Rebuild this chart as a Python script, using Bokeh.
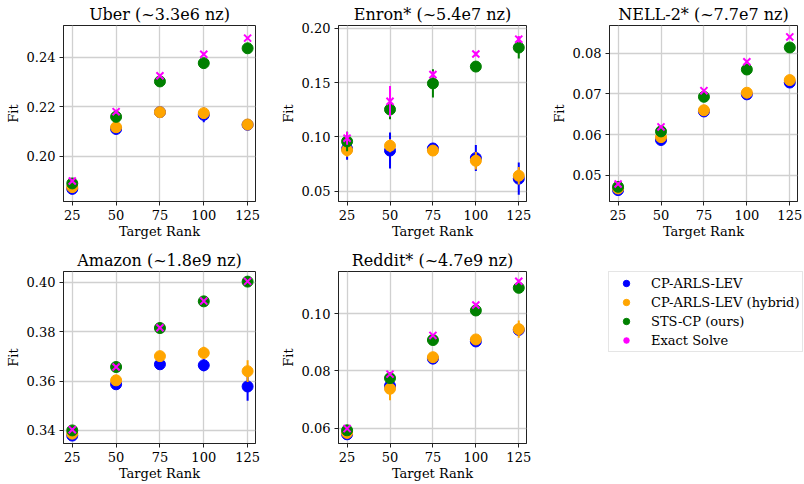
from bokeh.plotting import figure
from bokeh.layouts import column, row
from bokeh.models import (Range1d, FixedTicker, PrintfTickFormatter, Legend,
                          LegendItem, ColumnDataSource)
from bokeh.embed import file_html
from bokeh.resources import INLINE

FONT = "DejaVu Serif"

ranks = [25, 50, 75, 100, 125]
series_keys = ["lev", "hyb", "sts", "exact"]
series_labels = ["CP-ARLS-LEV", "CP-ARLS-LEV (hybrid)", "STS-CP (ours)", "Exact Solve"]
series_colors = ["blue", "orange", "green", "magenta"]

# ---- Uber ----
uber_fit = {"lev": [0.1868, 0.2110, 0.2178, 0.2167, 0.2127],
            "hyb": [0.1875, 0.2117, 0.2178, 0.2174, 0.2128],
            "sts": [0.1890, 0.2159, 0.2302, 0.2376, 0.2436],
            "exact": [0.1900, 0.2180, 0.2325, 0.2412, 0.2477]}
uber_err = {"lev": [0.0010, 0.0008, 0.0006, 0.0030, 0.0012],
            "hyb": [0.0008, 0.0008, 0.0006, 0.0012, 0.0017],
            "sts": [0.0006, 0.0006, 0.0005, 0.0008, 0.0006],
            "exact": [0.0004, 0.0008, 0.0005, 0.0006, 0.0005]}
uber_yticks = [0.20, 0.22, 0.24]

# ---- Enron ----
enron_fit = {"lev": [0.0890, 0.0874, 0.0893, 0.0805, 0.0615],
             "hyb": [0.0878, 0.0918, 0.0874, 0.0780, 0.0642],
             "sts": [0.0958, 0.1252, 0.1492, 0.1647, 0.1822],
             "exact": [0.0988, 0.1327, 0.1573, 0.1763, 0.1899]}
enron_err = {"lev": [0.0100, 0.0165, 0.0050, 0.0120, 0.0148],
             "hyb": [0.0060, 0.0060, 0.0040, 0.0080, 0.0080],
             "sts": [0.0090, 0.0090, 0.0130, 0.0040, 0.0100],
             "exact": [0.0060, 0.0140, 0.0030, 0.0020, 0.0030]}
enron_yticks = [0.05, 0.10, 0.15, 0.20]

# ---- NELL-2 ----
nell_fit = {"lev": [0.0464, 0.0587, 0.0657, 0.0699, 0.0728],
            "hyb": [0.0468, 0.0594, 0.0660, 0.0703, 0.0734],
            "sts": [0.0472, 0.0608, 0.0693, 0.0760, 0.0814],
            "exact": [0.0479, 0.0619, 0.0708, 0.0779, 0.0840]}
nell_err = {"lev": [0.0003, 0.0003, 0.0003, 0.0003, 0.0003],
            "hyb": [0.0003, 0.0003, 0.0003, 0.0003, 0.0003],
            "sts": [0.0003, 0.0003, 0.0003, 0.0003, 0.0003],
            "exact": [0.0002, 0.0002, 0.0002, 0.0002, 0.0002]}
nell_yticks = [0.05, 0.06, 0.07, 0.08]

# ---- Amazon ----
amazon_fit = {"lev": [0.3379, 0.3587, 0.3668, 0.3664, 0.3578],
              "hyb": [0.3387, 0.3603, 0.3701, 0.3714, 0.3640],
              "sts": [0.3400, 0.3657, 0.3815, 0.3923, 0.4003],
              "exact": [0.3403, 0.3657, 0.3816, 0.3924, 0.4004]}
amazon_err = {"lev": [0.0005, 0.0006, 0.0006, 0.0024, 0.0058],
              "hyb": [0.0005, 0.0005, 0.0006, 0.0025, 0.0044],
              "sts": [0.0004, 0.0004, 0.0004, 0.0004, 0.0004],
              "exact": [0.0003, 0.0003, 0.0003, 0.0003, 0.0003]}
amazon_yticks = [0.34, 0.36, 0.38, 0.40]

# ---- Reddit ----
reddit_fit = {"lev": [0.0579, 0.0748, 0.0843, 0.0903, 0.0943],
              "hyb": [0.0584, 0.0738, 0.0848, 0.0910, 0.0946],
              "sts": [0.0593, 0.0775, 0.0908, 0.1011, 0.1090],
              "exact": [0.0599, 0.0789, 0.0924, 0.1030, 0.1113]}
reddit_err = {"lev": [0.0004, 0.0010, 0.0005, 0.0005, 0.0010],
              "hyb": [0.0004, 0.0040, 0.0005, 0.0006, 0.0030],
              "sts": [0.0004, 0.0004, 0.0004, 0.0004, 0.0004],
              "exact": [0.0004, 0.0004, 0.0004, 0.0004, 0.0004]}
reddit_yticks = [0.06, 0.08, 0.10]

titles = ["Uber (~3.3e6 nz)", "Enron* (~5.4e7 nz)", "NELL-2* (~7.7e7 nz)",
          "Amazon (~1.8e9 nz)", "Reddit* (~4.7e9 nz)"]
y_ranges = [(0.1817, 0.2528), (0.0405, 0.2025), (0.0436, 0.0868),
            (0.3347, 0.4044), (0.0547, 0.1147)]
x_range = (20, 129.5)


def make_fig(title, fit, err, yr, yticks, width, height, left, right, top, bottom):
    p = figure(width=width, height=height, x_range=Range1d(*x_range),
               y_range=Range1d(*yr), output_backend="svg", toolbar_location=None,
               min_border_left=left, min_border_right=right, min_border_top=top,
               min_border_bottom=bottom)
    p.title.text = title
    p.title.align = "center"
    p.title.text_font = FONT
    p.title.text_font_size = "16px"
    p.title.text_font_style = "normal"
    p.title.text_color = "black"
    p.title.standoff = 3
    p.title.offset = 0
    p.outline_line_color = "#222222"
    p.outline_line_width = 1
    p.background_fill_color = "white"

    p.xaxis.ticker = FixedTicker(ticks=ranks)
    p.yaxis.ticker = FixedTicker(ticks=yticks)
    p.yaxis.formatter = PrintfTickFormatter(format="%.2f")
    p.xaxis.axis_label = "Target Rank"
    p.yaxis.axis_label = "Fit"
    for ax in (p.xaxis, p.yaxis):
        ax.axis_label_text_font = FONT
        ax.axis_label_text_font_size = "13px"
        ax.axis_label_text_font_style = "normal"
        ax.axis_label_text_color = "black"
        ax.major_label_text_font = FONT
        ax.major_label_text_font_size = "13px"
        ax.major_label_text_color = "black"
        ax.major_tick_out = 4
        ax.major_tick_in = 0
        ax.major_tick_line_color = "#222222"
        ax.minor_tick_line_color = None
        ax.axis_line_color = "#222222"
    p.xaxis.major_label_standoff = 4
    p.xaxis.axis_label_standoff = 1
    p.yaxis.major_label_standoff = 4
    p.yaxis.axis_label_standoff = 3
    p.grid.grid_line_color = "#d0d0d0"
    p.grid.grid_line_width = 1.3

    srcs = []
    for key, color in zip(series_keys, series_colors):
        y = fit[key]
        e = err[key]
        src = ColumnDataSource(dict(x=ranks, y=y,
                                    lo=[a - b for a, b in zip(y, e)],
                                    hi=[a + b for a, b in zip(y, e)]))
        p.segment(x0="x", y0="lo", x1="x", y1="hi", source=src,
                  line_color=color, line_width=2)
        if key == "exact":
            p.scatter("x", "y", source=src, marker="x", size=10,
                      line_color=color, line_width=2)
        else:
            p.scatter("x", "y", source=src, marker="circle", size=11,
                      fill_color=color, line_color=color)
        srcs.append(src)
    return p, srcs


FW = 192
W1 = 63 + FW + 22
W2 = 57 + FW + 22
W3 = 57 + FW + 6
TOP1, FH1, BOT1 = 25, 176, 44
TOP2, FH2, BOT2 = 26, 173, 39
H1 = TOP1 + FH1 + BOT1
H2 = TOP2 + FH2 + BOT2

datasets = [(uber_fit, uber_err, uber_yticks), (enron_fit, enron_err, enron_yticks),
            (nell_fit, nell_err, nell_yticks), (amazon_fit, amazon_err, amazon_yticks),
            (reddit_fit, reddit_err, reddit_yticks)]
widths = [W1, W2, W3, W1, W2]
heights = [H1, H1, H1, H2, H2]
lefts = [63, 57, 57, 63, 57]
rights = [22, 22, 6, 22, 22]
tops = [TOP1, TOP1, TOP1, TOP2, TOP2]
bots = [BOT1, BOT1, BOT1, BOT2, BOT2]

figs = []
src_sets = []
for i, (fit, err, yt) in enumerate(datasets):
    f, ss = make_fig(titles[i], fit, err, y_ranges[i], yt, widths[i],
                     heights[i], lefts[i], rights[i], tops[i], bots[i])
    figs.append(f)
    src_sets.append(ss)

# legend panel: proxy renderers share the Reddit sources but lie outside
# this panel's (empty) ranges, so only their legend glyphs are visible
lp = figure(width=W3, height=H2, x_range=Range1d(0, 1), y_range=Range1d(0, 1),
            output_backend="svg", toolbar_location=None, x_axis_type=None,
            y_axis_type=None, min_border_left=60, min_border_right=0,
            min_border_top=TOP2 - 1, min_border_bottom=0)
lp.outline_line_color = None
lp.grid.visible = False
items = []
for key, color, label, src in zip(series_keys, series_colors, series_labels,
                                  src_sets[4]):
    if key == "exact":
        r = lp.scatter("x", "y", source=src, marker="asterisk", size=10,
                       line_color=color, line_width=2)
    else:
        r = lp.scatter("x", "y", source=src, marker="circle", size=10,
                       fill_color=color, line_color=color)
    items.append(LegendItem(label=label, renderers=[r]))
legend = Legend(items=items, location="top_left", margin=0)
legend.label_text_font = FONT
legend.label_text_font_size = "13px"
legend.label_text_color = "black"
legend.glyph_height = 16
legend.label_height = 16
legend.glyph_width = 28
legend.spacing = 3
legend.padding = 3
legend.label_standoff = 11
legend.border_line_color = "#cccccc"
legend.border_line_width = 1
legend.background_fill_alpha = 1.0
lp.add_layout(legend)

layout = column(row(figs[0], figs[1], figs[2], spacing=0),
                row(figs[3], figs[4], lp, spacing=0), spacing=0)

open("out.html", "w").write(file_html(layout, INLINE))
